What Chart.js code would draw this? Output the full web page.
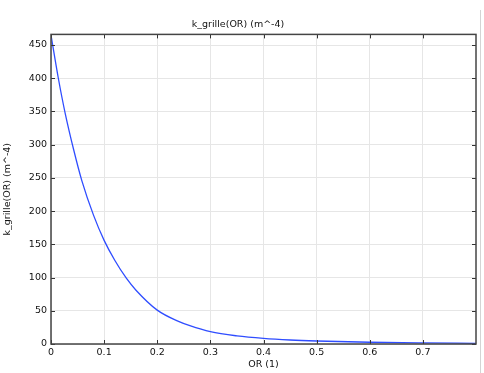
<!DOCTYPE html>
<html>
<head>
<meta charset="utf-8">
<script src="https://cdn.jsdelivr.net/npm/chart.js@4"></script>
<style>
html,body{margin:0;padding:0;background:#fff;}
#wrap{position:relative;width:484px;height:373px;}
#edge{position:absolute;left:480px;top:10px;width:1px;height:363px;background:#d4d4d4;}
</style>
</head>
<body>
<div id="wrap">
<canvas id="c" width="484" height="373"></canvas>
<div id="edge"></div>
</div>
<script>
const OR_VALUES = [0, 0.0138, 0.0265, 0.0428, 0.058, 0.08, 0.1, 0.12, 0.1418, 0.16, 0.2, 0.24, 0.2614, 0.3, 0.35, 0.4, 0.45, 0.5, 0.6, 0.7, 0.8];
const K_VALUES  = [465, 400, 348, 292, 246, 194, 156, 126, 99, 81, 51, 34, 27.5, 18.5, 12.2, 8.4, 6, 4.5, 2.6, 1.6, 1];
const X_TICKS = [0, 0.1, 0.2, 0.3, 0.4, 0.5, 0.6, 0.7];
const Y_TICKS = [0, 50, 100, 150, 200, 250, 300, 350, 400, 450];
const TITLE = 'k_grille(OR) (m^-4)';
const X_LABEL = 'OR (1)';
const Y_LABEL = 'k_grille(OR) (m^-4)';

const FONT = 'DejaVu Sans';
const TXT = '#111';

const framePlugin = {
  id: 'frame',
  afterDatasetsDraw(chart) {
    const {ctx, chartArea: a, scales} = chart;
    ctx.save();
    ctx.strokeStyle = '#333';
    ctx.lineWidth = 1;
    const L = 4;
    ctx.beginPath();
    X_TICKS.forEach(v => {
      const x = Math.round(scales.x.getPixelForValue(v)) + 0.5;
      ctx.moveTo(x, a.bottom); ctx.lineTo(x, a.bottom - L);
      ctx.moveTo(x, a.top); ctx.lineTo(x, a.top + L);
    });
    Y_TICKS.forEach(v => {
      const y = Math.round(scales.y.getPixelForValue(v)) + 0.5;
      ctx.moveTo(a.left, y); ctx.lineTo(a.left + L, y);
      ctx.moveTo(a.right, y); ctx.lineTo(a.right - L, y);
    });
    ctx.stroke();
    ctx.strokeStyle = '#444';
    ctx.lineWidth = 1.5;
    ctx.strokeRect(a.left, a.top, a.right - a.left, a.bottom - a.top);
    ctx.restore();
  }
};

new Chart(document.getElementById('c'), {
  type: 'line',
  data: {
    datasets: [{
      data: OR_VALUES.map((x, i) => ({x: x, y: K_VALUES[i]})),
      borderColor: '#2f4dff',
      borderWidth: 1.3,
      pointRadius: 0,
      fill: false,
      cubicInterpolationMode: 'monotone'
    }]
  },
  options: {
    responsive: false,
    animation: false,
    layout: {padding: {left: 0, right: 8, top: 0, bottom: 0}},
    plugins: {
      legend: {display: false},
      tooltip: {enabled: false},
      title: {
        display: true, text: TITLE, color: TXT,
        font: {family: FONT, size: 9.5, weight: 'normal', lineHeight: 1.2},
        padding: {top: 19, bottom: 4}
      }
    },
    scales: {
      x: {
        type: 'linear', min: 0, max: 0.8,
        afterBuildTicks: s => { s.ticks = X_TICKS.map(v => ({value: v})); },
        afterFit: s => { s.height = 29; },
        ticks: {color: TXT, padding: 3, font: {family: FONT, size: 9.5}, maxRotation: 0,
          callback: v => String(Math.round(v * 10) / 10)},
        grid: {color: '#e6e6e6', drawTicks: false},
        border: {display: false},
        title: {display: true, text: X_LABEL, color: TXT,
          font: {family: FONT, size: 9.5, lineHeight: 1.2}, padding: {top: 0, bottom: 3}}
      },
      y: {
        type: 'linear', min: 0, max: 466,
        afterBuildTicks: s => { s.ticks = Y_TICKS.map(v => ({value: v})); },
        afterFit: s => { s.width = 51; },
        ticks: {color: TXT, padding: 4, font: {family: FONT, size: 9.5}},
        grid: {color: '#e6e6e6', drawTicks: false},
        border: {display: false},
        title: {display: true, text: Y_LABEL, color: TXT,
          font: {family: FONT, size: 9.5, lineHeight: 1.2}, padding: {top: 2, bottom: 0}}
      }
    }
  },
  plugins: [framePlugin]
});
</script>
</body>
</html>
